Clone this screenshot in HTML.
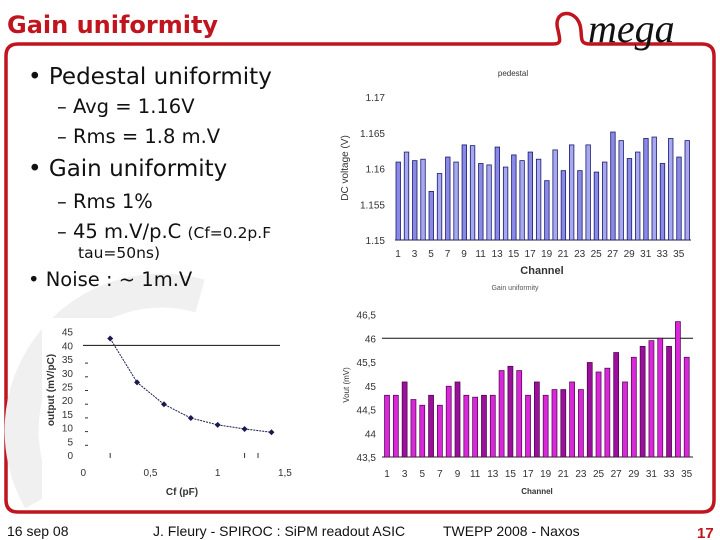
<!DOCTYPE html>
<html><head><meta charset="utf-8"><style>
body{margin:0;background:#fff;}
svg{display:block;font-family:"Liberation Sans",sans-serif;}
.b{font-family:"DejaVu Sans",sans-serif;fill:#111;}
</style></head><body>
<svg id="s" width="720" height="540" viewBox="0 0 720 540">
<path d="M18,44 L553,44 C562,44 560,40 558,30 C552,10 575,8 580,25 C583,36 578,44 590,44 L702,44 Q714,44 714,56 L714,500 Q714,512 702,512 L18,512 Q6,512 6,500 L6,56 Q6,44 18,44 Z" fill="none" stroke="#c0141e" stroke-width="3.5"/>
<text x="7" y="33" font-size="24" font-weight="bold" fill="#c0141e" font-family="DejaVu Sans,sans-serif">Gain uniformity</text>
<text x="588" y="42" font-size="40" font-style="italic" font-family="Liberation Serif,serif" fill="#111">mega</text>
<path d="M40,500 A140,140 0 0 1 200,296" fill="none" stroke="#f0f0f0" stroke-width="34"/>
<text class="b" x="28" y="84" font-size="23">• Pedestal uniformity</text>
<text class="b" x="57" y="113" font-size="19.5">– Avg = 1.16V</text>
<text class="b" x="57" y="143" font-size="19.5">– Rms = 1.8 m.V</text>
<text class="b" x="28" y="176" font-size="23">• Gain uniformity</text>
<text class="b" x="57" y="208" font-size="19.5">– Rms 1%</text>
<text class="b" x="57" y="238" font-size="19.5">– 45 m.V/p.C <tspan font-size="15.5">(Cf=0.2p.F</tspan></text>
<text class="b" x="78" y="258" font-size="15.5">tau=50ns)</text>
<text class="b" x="28" y="286" font-size="19.5">• Noise : ~ 1m.V</text>
<g id="ped"></g>
<g id="gain"></g>
<g id="cf"></g>
<text x="7" y="536" font-size="14" fill="#111">16 sep 08</text>
<text x="153" y="536" font-size="14" fill="#111">J. Fleury - SPIROC : SiPM readout ASIC</text>
<text x="443" y="536" font-size="14" fill="#111">TWEPP 2008 - Naxos</text>
<text x="697" y="538" font-size="15" font-weight="bold" fill="#c0141e">17</text>
</svg>
<script>
const pedValues=[1.1609,1.1623,1.1611,1.1613,1.1568,1.1593,1.1616,1.1609,1.1633,1.1632,1.1607,1.1605,1.1630,1.1602,1.1619,1.1611,1.1623,1.1613,1.1583,1.1626,1.1597,1.1633,1.1597,1.1633,1.1595,1.1609,1.1651,1.1639,1.1614,1.1623,1.1642,1.1644,1.1607,1.1642,1.1616,1.1639];
const pedTicks=[1.15,1.155,1.16,1.165,1.17];
const pedTickLabels=["1.15","1.155","1.16","1.165","1.17"];
const gainValues=[44.80,44.80,45.08,44.71,44.59,44.80,44.59,44.99,45.08,44.80,44.76,44.80,44.80,45.32,45.41,45.32,44.80,45.08,44.80,44.92,44.92,45.08,44.92,45.49,45.29,45.37,45.70,45.08,45.60,45.83,45.95,46.00,45.83,46.35,45.60];
const gainTicks=[43.5,44,44.5,45,45.5,46,46.5];
const gainTickLabels=["43,5","44","44,5","45","45,5","46","46,5"];
const cfX=[0.2,0.4,0.6,0.8,1.0,1.2,1.4];
const cfY=[42.5,26.5,18.5,13.5,11,9.5,8.3];
const cfYTicks=[0,5,10,15,20,25,30,35,40,45];
const cfXTicks=[0,0.5,1,1.5];
const cfXTickLabels=["0","0,5","1","1,5"];
const NS="http://www.w3.org/2000/svg";
function mk(p,t,a,txt){const e=document.createElementNS(NS,t);for(const k in a)e.setAttribute(k,a[k]);if(txt!==undefined)e.textContent=txt;p.appendChild(e);return e;}
(function(){const g=document.getElementById('ped');
const y=v=>240-(v-1.15)/0.02*143, x=i=>398+i*(289/35);
mk(g,'line',{x1:395,y1:240,x2:691,y2:240,stroke:'#222'});
pedTicks.forEach((t,i)=>{const e=mk(g,'text',{x:385,y:y(t)+4,'font-size':10,'text-anchor':'end',fill:'#333'},pedTickLabels[i]);

});
pedValues.forEach((v,i)=>{const r=mk(g,'rect',{x:x(i)-2,y:y(v),width:4.5,height:240-y(v),fill:i%2?'#a8a8f0':'#8a8ae6',stroke:'#1a1a70','stroke-width':0.8});


if(i%2==0){const e=mk(g,'text',{x:x(i),y:257,'font-size':10,'text-anchor':'middle',fill:'#333'},String(i+1));

}});
mk(g,'text',{x:513,y:76,'font-size':8,'text-anchor':'middle',fill:'#333'},'pedestal');
mk(g,'text',{x:542,y:274,'font-size':11,'font-weight':'bold','text-anchor':'middle',fill:'#333'},'Channel');
mk(g,'text',{x:515,y:290,'font-size':7,'text-anchor':'middle',fill:'#555'},'Gain uniformity');
mk(g,'text',{x:0,y:0,'font-size':10,'text-anchor':'middle',fill:'#333',transform:'translate(348,168) rotate(-90)'},'DC voltage (V)');
})();
(function(){const g=document.getElementById('gain');
const y=v=>457-(v-43.5)/3*142.5, x=i=>387+i*(299.7/34);
mk(g,'line',{x1:382,y1:457,x2:693,y2:457,stroke:'#222'});
mk(g,'line',{x1:382,y1:y(46),x2:693,y2:y(46),stroke:'#111'});
gainTicks.forEach((t,i)=>{const e=mk(g,'text',{x:376,y:y(t)+4,'font-size':10,'text-anchor':'end',fill:'#333'},gainTickLabels[i]);

});
gainValues.forEach((v,i)=>{const r=mk(g,'rect',{x:x(i)-2.5,y:y(v),width:5,height:457-y(v),fill:i%3==2?'#9a109a':'#d828d8',stroke:'#4a004a','stroke-width':0.7});


if(i%2==0){const e=mk(g,'text',{x:x(i),y:477,'font-size':10,'text-anchor':'middle',fill:'#333'},String(i+1));

}});
mk(g,'text',{x:537,y:494,'font-size':8,'font-weight':'bold','text-anchor':'middle',fill:'#333'},'Channel');
mk(g,'text',{x:0,y:0,'font-size':8,'text-anchor':'middle',fill:'#333',transform:'translate(349,385) rotate(-90)'},'Vout (mV)');
})();
(function(){const g=document.getElementById('cf');
mk(g,'rect',{x:42,y:318,width:255,height:192,fill:'#fff'});
const x=v=>83.3+v*134.4, y=v=>455-v*2.74;
mk(g,'line',{x1:83,y1:y(40),x2:280,y2:y(40),stroke:'#111'});
cfYTicks.forEach(t=>{const e=mk(g,'text',{x:73,y:y(t)+4,'font-size':10,'text-anchor':'end',fill:'#333'},String(t));


if(t>0&&t<40)mk(g,'line',{x1:85,y1:y(t)+4,x2:88,y2:y(t)+4,stroke:'#333'});});
cfXTicks.forEach((t,i)=>{const e=mk(g,'text',{x:x(t),y:476,'font-size':10,'text-anchor':'middle',fill:'#333'},cfXTickLabels[i]);

});
[0.2,1.2,1.3].forEach(t=>mk(g,'line',{x1:x(t),y1:453,x2:x(t),y2:458,stroke:'#333'}));
const pts=cfX.map((v,i)=>x(v)+','+y(cfY[i])).join(' ');
const pl=mk(g,'polyline',{points:pts,fill:'none',stroke:'#1a1a50','stroke-width':1,'stroke-dasharray':'2,1'});


cfX.forEach((v,i)=>{const p=mk(g,'path',{d:`M${x(v)},${y(cfY[i])-3}l3,3l-3,3l-3,-3z`,fill:'#1a1a50'});

});
mk(g,'text',{x:182,y:495,'font-size':10,'font-weight':'bold','text-anchor':'middle',fill:'#333'},'Cf (pF)');
mk(g,'text',{x:0,y:0,'font-size':10,'font-weight':'bold','text-anchor':'middle',fill:'#333',transform:'translate(54,390) rotate(-90)'},'output (mV/pC)');
})();
</script>
</body></html>
